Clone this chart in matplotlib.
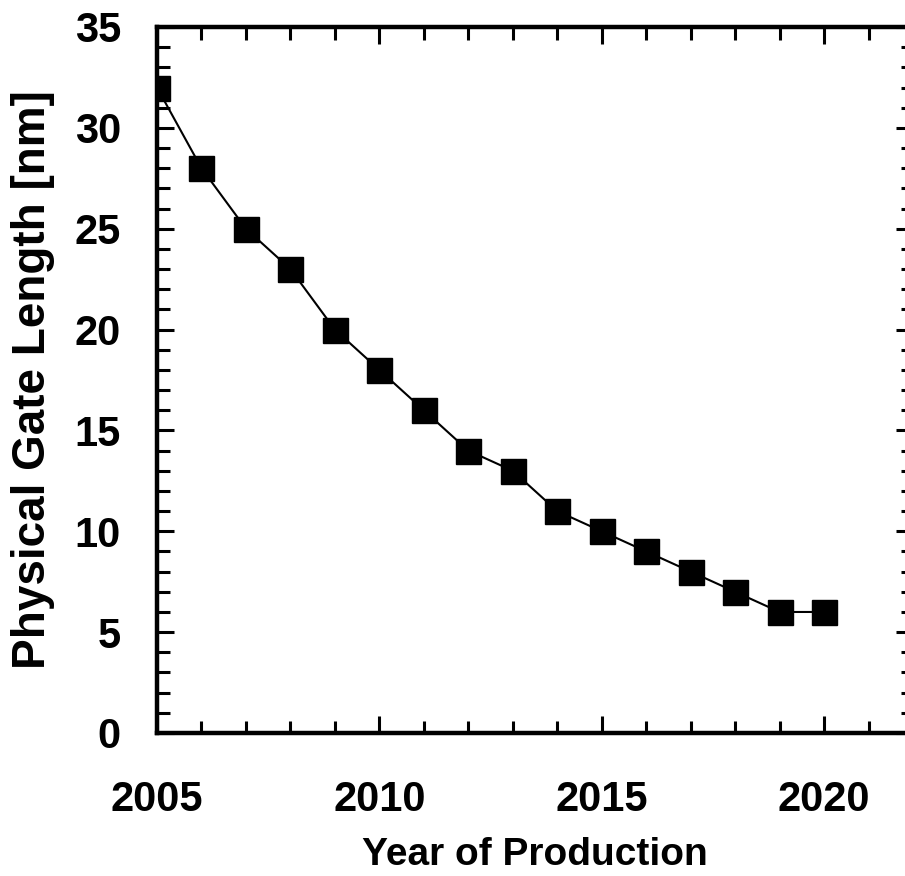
import matplotlib.pyplot as plt
from matplotlib.ticker import MultipleLocator

plt.rcParams['font.family'] = ['Liberation Sans', 'DejaVu Sans']
plt.rcParams['font.weight'] = 'bold'

# - DATA -
years = [2005, 2006, 2007, 2008, 2009, 2010, 2011, 2012,
         2013, 2014, 2015, 2016, 2017, 2018, 2019, 2020]
gate_length = [32, 28, 25, 23, 20, 18, 16, 14, 13, 11, 10, 9, 8, 7, 6, 6]
# - DATA -

fig = plt.figure(figsize=(9.05, 8.76), dpi=100)
ax = fig.add_axes([157/905, 143/876, 756/905, 706/876])

ax.plot(years, gate_length, color='black', lw=1.5, marker='s',
        markersize=18, markerfacecolor='black', markeredgecolor='black')

ax.set_xlim(2005, 2022)
ax.set_ylim(0, 35)
ax.xaxis.set_major_locator(MultipleLocator(5))
ax.xaxis.set_minor_locator(MultipleLocator(1))
ax.yaxis.set_major_locator(MultipleLocator(5))
ax.yaxis.set_minor_locator(MultipleLocator(1))

for s in ax.spines.values():
    s.set_linewidth(3.2)

ax.tick_params(which='both', direction='in', top=True, right=True, width=2.2)
ax.tick_params(which='major', length=12)
ax.tick_params(which='minor', length=9)
ax.tick_params(axis='x', which='major', labelsize=30, pad=34)
ax.tick_params(axis='y', which='major', labelsize=30, pad=26)

ax.set_xlabel("Year of Production", fontsize=28, fontweight='bold', labelpad=12)
ax.set_ylabel("Physical Gate Length [nm]", fontsize=33, fontweight='bold', labelpad=14)

fig.savefig('out.png', dpi=100)
